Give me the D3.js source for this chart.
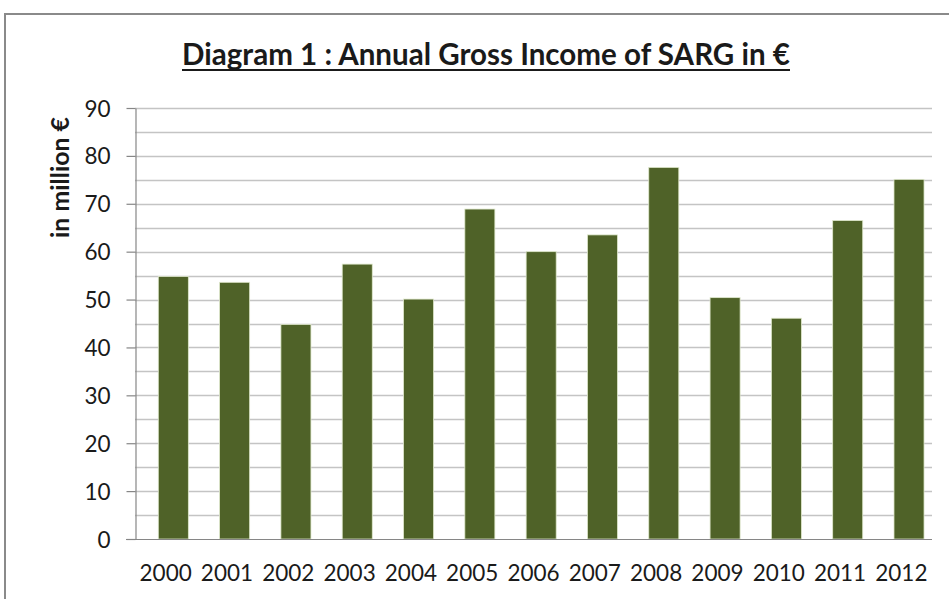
<!DOCTYPE html>
<html>
<head>
<meta charset="utf-8">
<script src="https://cdn.jsdelivr.net/npm/d3@7"></script>
<style>
    body { margin: 0; background: #fff; }
    text { font-family: Lato, "Open Sans", sans-serif; fill: #1a1a1a; }
    .grid line { stroke: #c4c4c4; stroke-width: 1.4; }
    .axis path, .axis line { stroke: #868686; stroke-width: 1.2; }
</style>
</head>
<body>
<div id="container"></div>
<script>
const years = ["2000", "2001", "2002", "2003", "2004", "2005", "2006",
    "2007", "2008", "2009", "2010", "2011", "2012"];
const income = [54.8, 53.6, 44.8, 57.4, 50.1, 68.9, 60.0, 63.5, 77.6, 50.4, 46.1, 66.5, 75.1];
const yTicks = [0, 10, 20, 30, 40, 50, 60, 70, 80, 90];
const gridValues = d3.range(5, 91, 5);
const title = "Diagram 1 : Annual Gross Income of SARG in €";
const yTitle = "in million €";

const width = 949;
const height = 599;
const container = d3.select("#container");

const svg = container.append("svg")
    .attr("width", width)
    .attr("height", height);

// frame of the chart, runs off the right and bottom edge
svg.append("rect")
    .attr("x", 5)
    .attr("y", 14)
    .attr("width", 1000)
    .attr("height", 700)
    .attr("fill", "#fff")
    .attr("stroke", "#8a8a8a")
    .attr("stroke-width", 2);

const x = d3.scaleBand()
    .domain(years)
    .range([135, 932]);

const y = d3.scaleLinear()
    .domain([0, 90])
    .range([539, 108]);

// shrink a text to a wanted width
function fit(sel, w) {
    const len = sel.node().getComputedTextLength();
    const fs = parseFloat(sel.attr("font-size"));
    sel.attr("font-size", fs * w / len);
}

svg.append("g")
    .classed("grid", true)
    .selectAll("line")
    .data(gridValues)
    .join("line")
    .attr("x1", 135)
    .attr("x2", 932)
    .attr("y1", d => Math.round(y(d)) + 0.5)
    .attr("y2", d => Math.round(y(d)) + 0.5)
;

const step = x.step();
svg.append("g")
    .selectAll("rect")
    .data(income)
    .join("rect")
    .attr("x", (d, i) => x(years[i]) + step * 0.38)
    .attr("width", step * 0.49)
    .attr("y", d => y(d))
    .attr("height", d => y(0) - y(d))
    .attr("fill", "#4f6228")
    .attr("stroke", "#dfe8cc")
    .attr("stroke-width", 0.8)
;

// y axis
const yAxis = svg.append("g")
    .classed("axis", true)
    .attr("transform", "translate(135.5,0)")
    .call(d3.axisLeft(y).tickValues(yTicks).tickSize(9).tickPadding(16).tickSizeOuter(0));
yAxis.selectAll("text")
    .attr("font-size", 22.5)
    .attr("font-family", "Lato, sans-serif")
    .attr("fill", "#1a1a1a")
    .attr("dy", "0.36em");

// x axis, labels only
const xAxis = svg.append("g")
    .classed("axis", true)
    .attr("transform", "translate(0,539.5)")
    .call(d3.axisBottom(x).tickSize(0).tickPadding(26).tickSizeOuter(0));
xAxis.select(".domain").attr("d", "M126,0H932");
xAxis.selectAll("text")
    .attr("font-size", 22.5)
    .attr("font-family", "Lato, sans-serif")
    .attr("fill", "#1a1a1a");

const t = svg.append("text")
    .attr("x", 486)
    .attr("y", 65)
    .attr("text-anchor", "middle")
    .attr("font-weight", "bold")
    .attr("font-size", 26)
    .text(title);
fit(t, 608);

// underline drawn by hand, thicker than the css one
svg.append("line")
    .attr("x1", 182)
    .attr("x2", 790)
    .attr("y1", 70)
    .attr("y2", 70)
    .attr("stroke", "#1a1a1a")
    .attr("stroke-width", 2);

const yt = svg.append("text")
    .attr("transform", "translate(69,177.5) rotate(-90)")
    .attr("text-anchor", "middle")
    .attr("font-weight", "bold")
    .attr("font-size", 20)
    .text(yTitle);
fit(yt, 121);
</script>
</body>
</html>
